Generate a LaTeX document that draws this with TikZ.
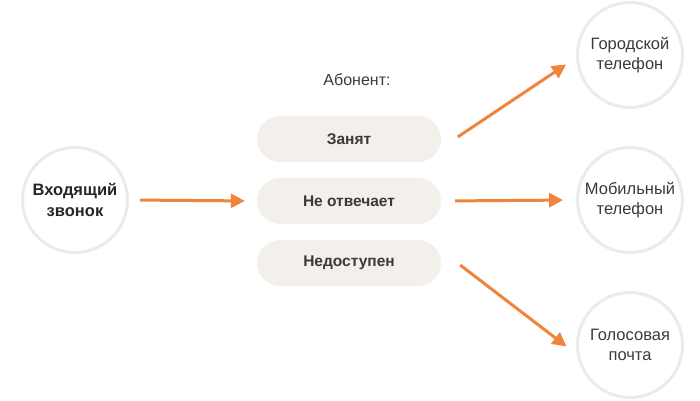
\documentclass[tikz,border=0pt]{standalone}
\usepackage{fontspec}
\setmainfont{Liberation Sans}
\usetikzlibrary{arrows.meta}

\definecolor{ccorange}{RGB}{240,132,60}
\definecolor{ccring}{RGB}{238,235,230}
\definecolor{ccpill}{RGB}{243,240,236}
\definecolor{cctext}{RGB}{58,58,58}

\begin{document}
\begin{tikzpicture}[x=1pt,y=-1pt,
  ring/.style={circle, draw=ccring, line width=3pt, minimum size=105pt, inner sep=0pt,
    align=center, font=\fontsize{16.5}{20}\selectfont, text=cctext},
  pill/.style={rectangle, rounded corners=23pt, fill=ccpill, minimum width=184pt,
    minimum height=46pt, font=\fontsize{15.5}{18}\selectfont\bfseries, text=cctext},
  flow/.style={ccorange, line width=3pt, -{Triangle[length=14pt,width=14pt]}}]
  \useasboundingbox (0,0) rectangle (700,400);

  % Incoming call
  \node[ring, font=\fontsize{16.5}{21}\selectfont\bfseries, text=black!85] (call) at (75,200) {Входящий\\звонок};

  % Subscriber states
  \node[text=cctext, font=\fontsize{16}{18}\selectfont] (abon) at (357,80) {Абонент:};
  \node[pill] (busy) at (349,139) {Занят};
  \node[pill] (noans) at (349,201) {Не отвечает};
  \node[pill] (unreach) at (349,263) {Недоступен};

  % Targets
  \node[ring] (city) at (630,55) {Городской\\телефон};
  \node[ring] (mobile) at (630,200) {Мобильный\\телефон};
  \node[ring] (voice) at (630,345) {Голосовая\\почта};

  % Arrows
  \draw[flow, shorten <=11pt, shorten >=12pt] (call.east) -- (noans.west);
  \draw[flow, shorten <=20pt, shorten >=12pt] ([yshift=-9pt]busy.east) -- (city.183);
  \draw[flow, shorten <=14pt, shorten >=13pt] (noans.east) -- (mobile.west);
  \draw[flow, shorten <=24pt, shorten >=13pt] ([yshift=12.5pt]unreach.east) -- (voice.190);

\end{tikzpicture}
\end{document}
